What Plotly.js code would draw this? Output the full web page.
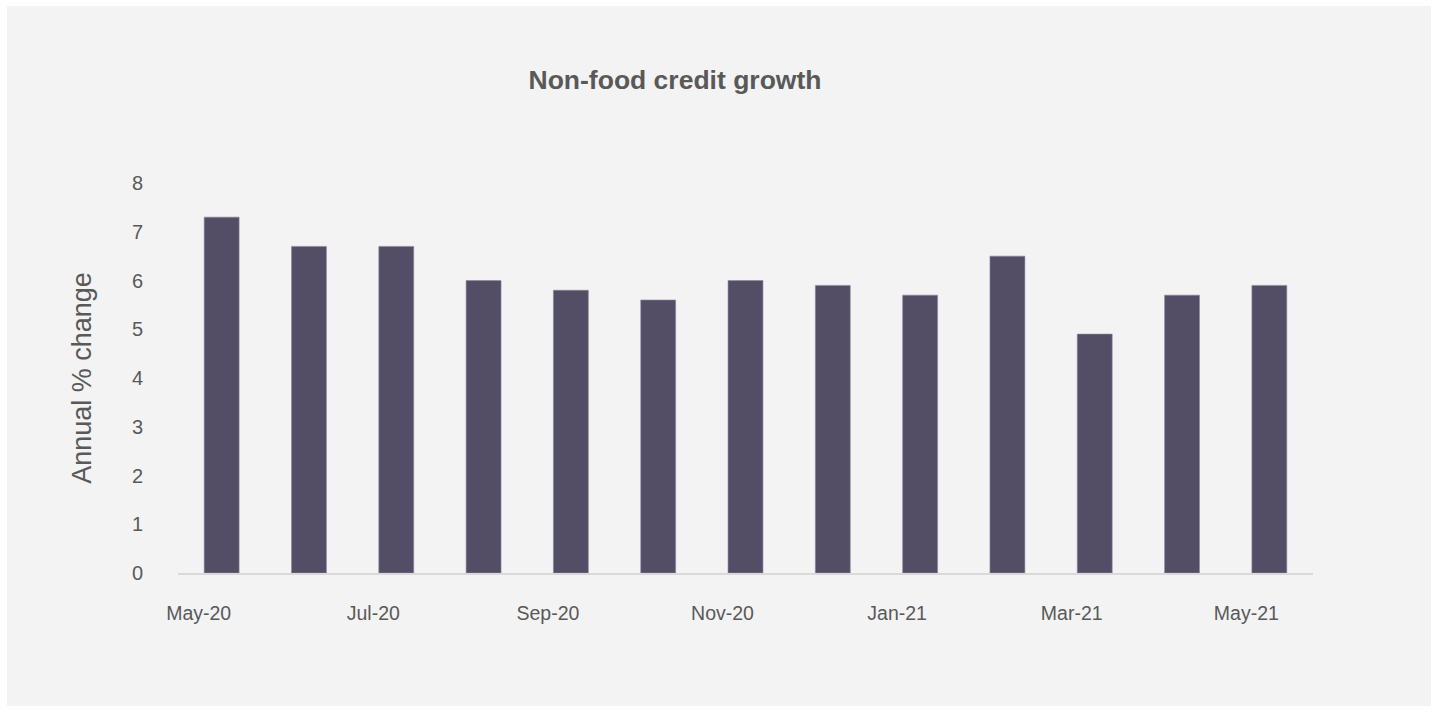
<!DOCTYPE html>
<html>
<head>
<meta charset="utf-8">
<script src="https://cdn.plot.ly/plotly-3.0.1.min.js"></script>
<style>
html,body{margin:0;padding:0;background:#ffffff;}
#chart{position:absolute;left:7px;top:6px;width:1424px;height:700px;}
</style>
</head>
<body>
<div id="chart"></div>
<script>
const months = ["May-20","Jun-20","Jul-20","Aug-20","Sep-20","Oct-20","Nov-20","Dec-20","Jan-21","Feb-21","Mar-21","Apr-21","May-21"];
const growth = [7.3, 6.7, 6.7, 6.0, 5.8, 5.6, 6.0, 5.9, 5.7, 6.5, 4.9, 5.7, 5.9];
const tickLabels = ["May-20","Jul-20","Sep-20","Nov-20","Jan-21","Mar-21","May-21"];
const yTicks = [0,1,2,3,4,5,6,7,8];

const trace = {
  type: 'bar',
  x: months,
  y: growth,
  width: 0.4,
  marker: {color: '#534e66', line: {color: '#8b879a', width: 0.6}},
  hoverinfo: 'x+y'
};

const layout = {
  width: 1424,
  height: 700,
  paper_bgcolor: '#f3f3f3',
  plot_bgcolor: '#f3f3f3',
  margin: {l: 171, r: 118, t: 177, b: 133},
  showlegend: false,
  font: {family: 'Liberation Sans, Arial, sans-serif', color: '#595959'},
  title: {
    text: '<b>Non-food credit growth</b>',
    font: {size: 26.5, color: '#595959', family: 'Liberation Sans, Arial, sans-serif'},
    xref: 'paper', x: (668 - 171) / (1424 - 171 - 118), xanchor: 'center',
    yref: 'container', y: 1 - 74 / 700, yanchor: 'middle'
  },
  xaxis: {
    type: 'category',
    tickmode: 'array',
    tickvals: tickLabels,
    ticktext: tickLabels,
    showgrid: false,
    showline: true,
    linecolor: '#d9d9d9',
    linewidth: 2,
    ticks: '',
    tickfont: {size: 19.5, color: '#595959'},
    ticklabelstandoff: 22,
    ticklabelshift: -23,
    zeroline: false,
    fixedrange: true
  },
  yaxis: {
    range: [0, 8],
    tickmode: 'array',
    tickvals: yTicks,
    showgrid: false,
    showline: false,
    zeroline: false,
    ticks: '',
    tickfont: {size: 20, color: '#595959'},
    ticklabelstandoff: 34,
    title: {text: 'Annual % change', font: {size: 27, color: '#595959'}, standoff: 32},
    automargin: false,
    fixedrange: true
  },
  bargap: 0.6
};

Plotly.newPlot('chart', [trace], layout, {displayModeBar: false, staticPlot: false});
</script>
</body>
</html>
